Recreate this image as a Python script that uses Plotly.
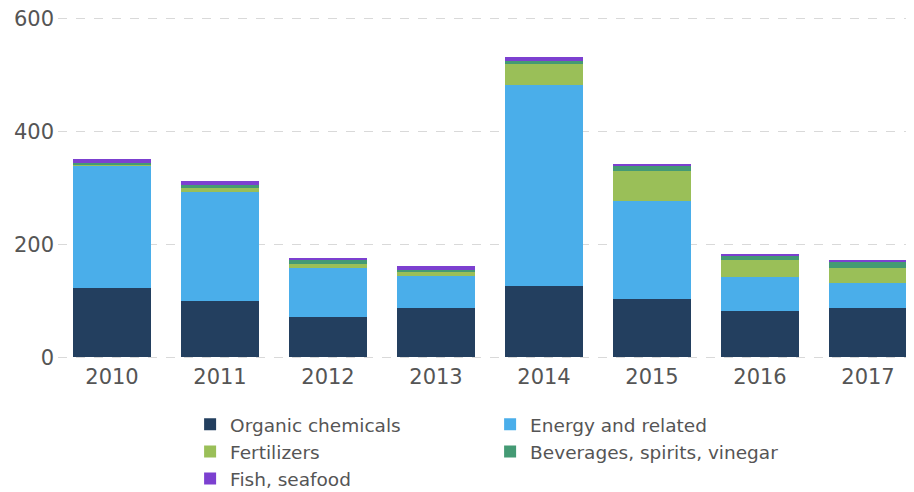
import plotly.graph_objects as go

years = ["2010", "2011", "2012", "2013", "2014", "2015", "2016", "2017"]
organic_chemicals = [122, 99, 71, 87, 126, 103, 82, 87]
energy_related = [218, 194, 88, 57, 356, 174, 60, 44]
fertilizers = [2, 7, 6.4, 8.3, 38.5, 53, 30, 27]
beverages = [2, 4.7, 6.5, 1.8, 5.3, 9, 7, 10.7]
fish_seafood = [7.5, 7, 4, 7, 7, 3.6, 3.6, 3.6]

series = [
    ("Organic chemicals", organic_chemicals, "#233f5f"),
    ("Energy and related", energy_related, "#4aaeea"),
    ("Fertilizers", fertilizers, "#9abf58"),
    ("Beverages, spirits, vinegar", beverages, "#449a74"),
    ("Fish, seafood", fish_seafood, "#7c40d0"),
]

fig = go.Figure()
for name, vals, col in series:
    fig.add_trace(go.Bar(name=name, x=years, y=vals, marker_color=col,
                         marker_line_width=0))

fig.update_layout(
    barmode="stack",
    bargap=0.278,
    width=906, height=484,
    margin=dict(l=50, r=0, t=9, b=133, autoexpand=False),
    plot_bgcolor="white", paper_bgcolor="white",
    font=dict(family="DejaVu Sans", color="#555555", size=21),
    showlegend=True,
    legend=dict(orientation="h", xref="container", yref="container",
                x=0.201, xanchor="left", y=0.178, yanchor="top",
                entrywidth=255, traceorder="normal",
                font=dict(size=18.5, color="#555555"), itemsizing="constant"),
    xaxis=dict(range=[-0.5, 7.426], showgrid=False, showline=False, ticks="",
               automargin=False, tickfont=dict(size=21), ticklabelstandoff=3),
    yaxis=dict(range=[-3, 603], tickvals=[0, 200, 400, 600], showgrid=True,
               gridcolor="#d9d9d9", griddash="dash", gridwidth=1.3, zeroline=False,
               showline=False, ticks="", automargin=False, tickfont=dict(size=21),
               ticklabeloverflow="allow", ticklabelstandoff=3),
)

fig.write_html("out.html")
